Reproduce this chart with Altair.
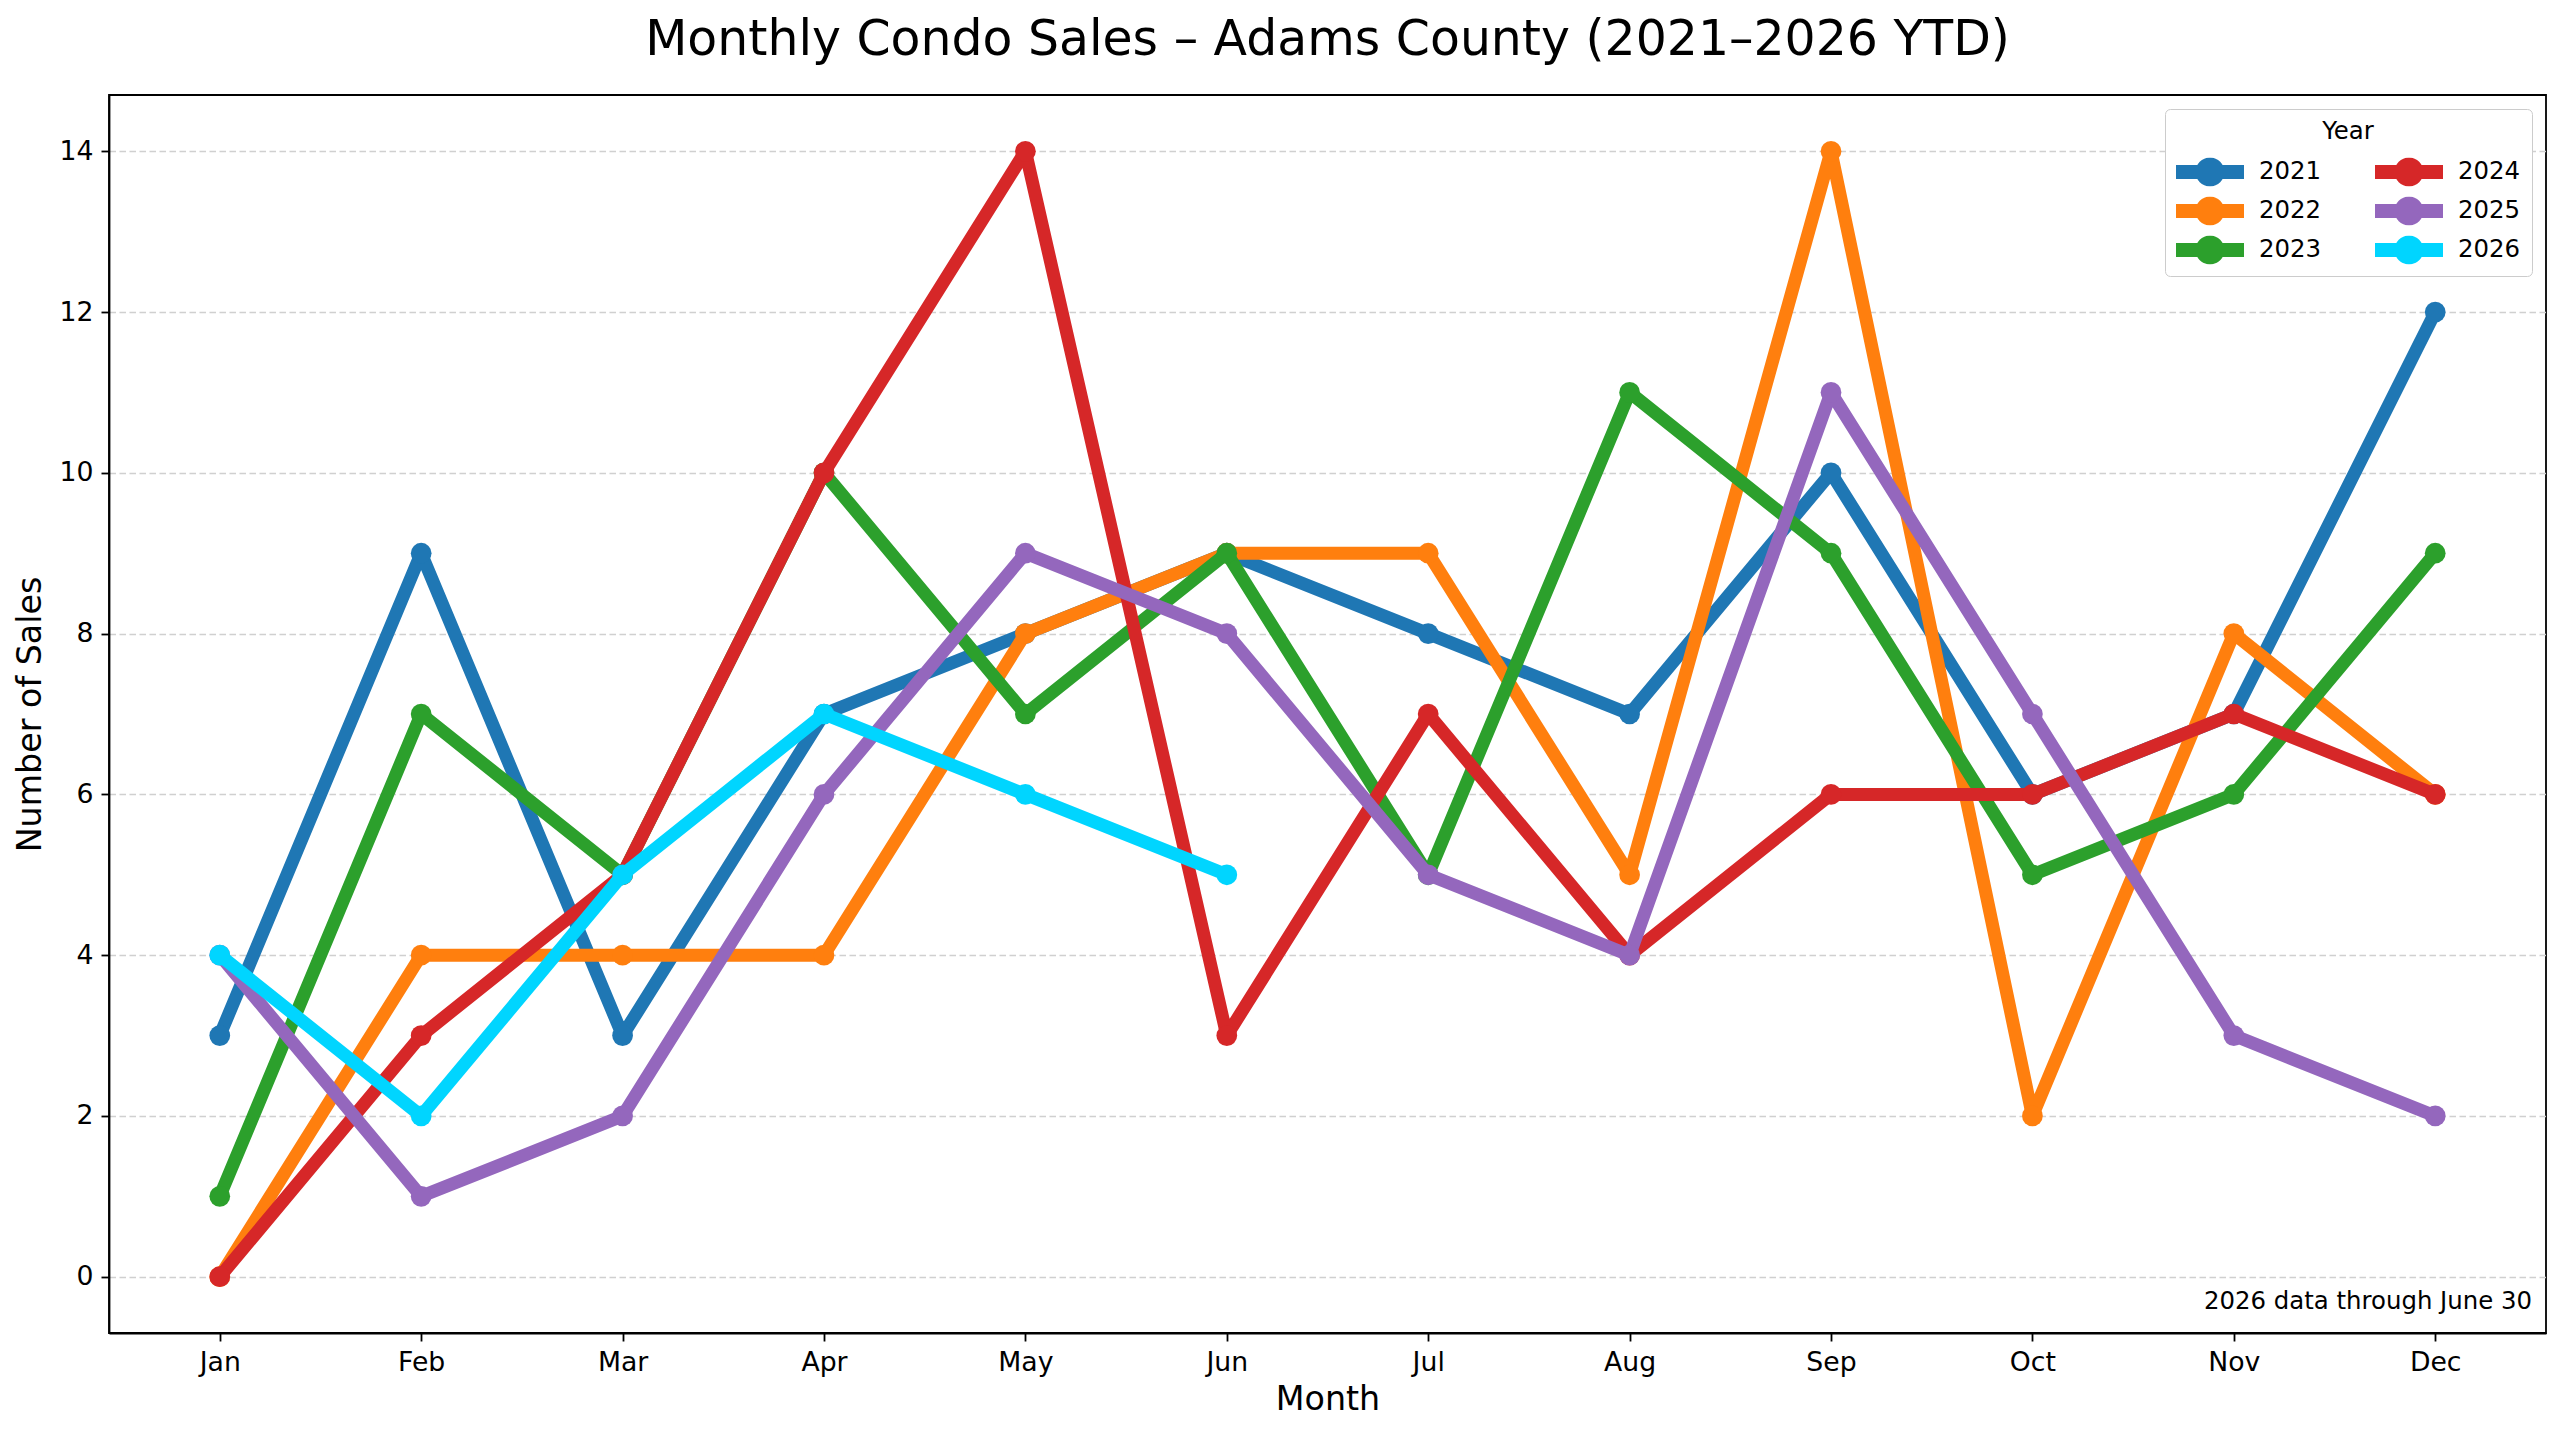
import pandas as pd
import altair as alt

# Monthly condo sales
months = ["Jan", "Feb", "Mar", "Apr", "May", "Jun",
          "Jul", "Aug", "Sep", "Oct", "Nov", "Dec"]
years = ["2021", "2022", "2023", "2024", "2025", "2026"]
sales_2021 = [3, 9, 3, 7, 8, 9, 8, 7, 10, 6, 7, 12]
sales_2022 = [0, 4, 4, 4, 8, 9, 9, 5, 14, 2, 8, 6]
sales_2023 = [1, 7, 5, 10, 7, 9, 5, 11, 9, 5, 6, 9]
sales_2024 = [0, 3, 5, 10, 14, 3, 7, 4, 6, 6, 7, 6]
sales_2025 = [4, 1, 2, 6, 9, 8, 5, 4, 11, 7, 3, 2]
sales_2026 = [4, 2, 5, 7, 6, 5]  # YTD, through June
colors = ["#1f77b4", "#ff7f0e", "#2ca02c", "#d62728", "#9467bd", "#00d5ff"]
y_ticks = [0, 2, 4, 6, 8, 10, 12, 14]
note_text = "2026 data through June 30"

series = [sales_2021, sales_2022, sales_2023, sales_2024, sales_2025, sales_2026]
rows = []
for yr, vals in zip(years, series):
    for i, v in enumerate(vals):
        rows.append({"Year": yr, "MonthIdx": i, "Month": months[i], "Sales": v})
df = pd.DataFrame(rows)

W, H = 2437, 1238
FONT = "DejaVu Sans"

month_expr = "[" + ",".join("'%s'" % m for m in months) + "][datum.value]"

x_enc = alt.X("MonthIdx:Q",
              scale=alt.Scale(domain=[-0.55, 11.55], nice=False, zero=False),
              axis=alt.Axis(values=list(range(12)), labelExpr=month_expr,
                            title="Month", grid=False))
y_enc = alt.Y("Sales:Q",
              scale=alt.Scale(domain=[-0.7, 14.7], nice=False, zero=False),
              axis=alt.Axis(values=y_ticks, title="Number of Sales", grid=True,
                            gridDash=[6.5, 3.5], gridColor="#d0d0d0", gridWidth=1.6))

# legend symbol: a thick line with a dot in the middle
legend_symbol = ("M-1,-0.206L1,-0.206L1,0.206L-1,0.206Z"
                 "M0.426,0A0.426,0.426 0 1,1 -0.426,0A0.426,0.426 0 1,1 0.426,0Z")

base = alt.Chart(df)
layers = []
for yr, col in zip(years, colors):
    one = base.transform_filter(alt.datum.Year == yr)
    line = one.mark_line(strokeWidth=13, strokeJoin="round").encode(
        x=x_enc, y=y_enc, color=alt.value(col))
    pts = one.mark_point(filled=True, shape="circle", size=430, opacity=1).encode(
        x=x_enc, y=y_enc,
        color=alt.Color("Year:N",
                        scale=alt.Scale(domain=years, range=colors),
                        legend=alt.Legend(title="Year", columns=2)))
    layers += [line, pts]

note = alt.Chart(pd.DataFrame({"note": [note_text]})).mark_text(
    align="right", baseline="alphabetic", fontSize=24.4, font=FONT, color="black"
).encode(text="note:N", x=alt.value(W - 14), y=alt.value(H - 24))

chart = alt.layer(*layers, note).properties(
    width=W, height=H,
    padding={"left": 5, "top": 8, "right": 5, "bottom": 5},
    title=alt.TitleParams("Monthly Condo Sales – Adams County (2021–2026 YTD)",
                          fontSize=48.9, fontWeight="normal", font=FONT,
                          anchor="middle", offset=30, color="black"),
).configure_view(
    stroke="black", strokeWidth=1.8
).configure_axis(
    labelFont=FONT, titleFont=FONT, labelFontSize=26.7, titleFontSize=33.3,
    titleFontWeight="normal", labelColor="black", titleColor="black",
    domainColor="black", domainWidth=1.8, tickColor="black", tickWidth=1.8,
    tickSize=8, labelPadding=8, titlePadding=8
).configure_axisY(
    titlePadding=12
).configure_legend(
    orient="top-right", offset=14,
    labelFont=FONT, titleFont=FONT, labelColor="black", titleColor="black",
    labelFontSize=24.4, titleFontSize=24.4, titleFontWeight="normal",
    titleAnchor="middle", symbolType=legend_symbol, symbolSize=4624,
    symbolStrokeWidth=0, symbolOpacity=1, clipHeight=29,
    labelOffset=15, columnPadding=53, rowPadding=10, titlePadding=13,
    padding=11, cornerRadius=5, strokeColor="#cccccc", fillColor="white"
)

chart.save("out.html", embed_options={"renderer": "svg", "actions": False})
